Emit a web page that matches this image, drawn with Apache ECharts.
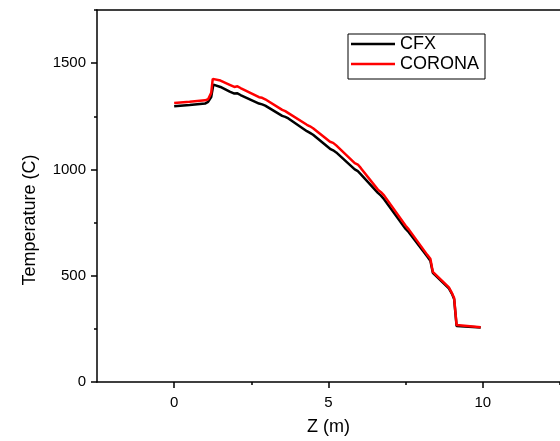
<!DOCTYPE html>
<html>
<head>
<meta charset="utf-8">
<script src="https://cdn.jsdelivr.net/npm/echarts@6/dist/echarts.min.js"></script>
<style>html,body{margin:0;padding:0;background:#fff}#c{width:560px;height:441px}</style>
</head>
<body>
<div id="c"></div>
<script>
// Data
var cfxZ = [0, 0.5, 1.0, 1.1, 1.2, 1.27, 1.5, 1.8, 1.95, 2.05, 2.15, 2.75, 2.85, 2.95, 3.5, 3.6, 3.7, 4.3, 4.4, 4.5, 5.05, 5.15, 5.25, 5.85, 5.95, 6.05, 6.6, 6.7, 6.8, 7.5, 7.6, 8.2, 8.3, 8.38, 8.9, 9.0, 9.07, 9.15, 9.93];
var cfxT = [1297, 1303, 1310, 1318, 1340, 1399, 1388, 1366, 1357, 1358, 1350, 1310, 1306, 1300, 1252, 1247, 1240, 1180, 1172, 1163, 1097, 1090, 1080, 1000, 992, 977, 890, 877, 860, 720, 705, 590, 570, 514, 440, 415, 390, 263, 256];
var coronaZ = [0, 0.5, 1.0, 1.1, 1.2, 1.25, 1.5, 1.8, 1.95, 2.05, 2.15, 2.75, 2.85, 2.95, 3.5, 3.6, 3.7, 4.3, 4.4, 4.5, 5.05, 5.15, 5.25, 5.85, 5.95, 6.05, 6.6, 6.7, 6.8, 7.5, 7.6, 8.2, 8.3, 8.38, 8.9, 9.0, 9.07, 9.15, 9.93];
var coronaT = [1313, 1318, 1325, 1330, 1360, 1426, 1418, 1398, 1388, 1391, 1383, 1340, 1337, 1330, 1280, 1274, 1265, 1210, 1203, 1194, 1130, 1125, 1113, 1030, 1023, 1006, 905, 893, 878, 735, 718, 598, 580, 518, 445, 418, 395, 268, 258];
var seriesNames = ['CFX', 'CORONA'];
var xMajorTicks = [0, 5, 10];
var xMinorTicks = [2.5, 7.5, 12.5];
var yMajorTicks = [0, 500, 1000, 1500];
var yMinorTicks = [250, 750, 1250, 1750];
var xAxisName = 'Z (m)';
var yAxisName = 'Temperature (C)';

function pairs(xs, ys) { return xs.map(function (x, i) { return [x, ys[i]]; }); }

var font = 'Liberation Sans, Arial, sans-serif';
var chart = echarts.init(document.getElementById('c'), null, { renderer: 'canvas' });
var axisLine = { show: true, onZero: false, lineStyle: { color: '#000', width: 1.5 } };
chart.setOption({
  animation: false,
  backgroundColor: '#fff',
  grid: { left: 97, top: 10, right: -2, bottom: 58 },
  legend: {
    left: 348, top: 34,
    orient: 'vertical',
    data: [{ name: seriesNames[0], icon: 'rect' }, { name: seriesNames[1], icon: 'rect' }],
    itemWidth: 44, itemHeight: 2.5, itemGap: 0,
    padding: [0, 6, 5, 3],
    borderColor: '#000', borderWidth: 1,
    textStyle: { fontFamily: font, fontSize: 18, color: '#000', lineHeight: 20 }
  },
  xAxis: [{
    type: 'value', min: -2.5, max: 12.5, position: 'bottom',
    name: xAxisName, nameLocation: 'middle', nameGap: 36,
    nameTextStyle: { fontFamily: font, fontSize: 18, color: '#000' },
    axisLine: axisLine,
    axisTick: { show: true, customValues: xMajorTicks, length: 6, lineStyle: { color: '#000', width: 1.5 } },
    axisLabel: { customValues: xMajorTicks, fontFamily: font, fontSize: 15, color: '#000', margin: 13 },
    splitLine: { show: false }
  }, {
    type: 'value', min: -2.5, max: 12.5, position: 'bottom',
    axisLine: { show: false, onZero: false },
    axisTick: { show: true, customValues: xMinorTicks, length: 3, lineStyle: { color: '#000', width: 1.5 } },
    axisLabel: { show: false },
    splitLine: { show: false }
  }, {
    type: 'value', min: -2.5, max: 12.5, position: 'top',
    axisLine: axisLine, axisTick: { show: false }, axisLabel: { show: false }, splitLine: { show: false }
  }],
  yAxis: [{
    type: 'value', min: 0, max: 1750, position: 'left',
    axisLine: axisLine,
    axisTick: { show: true, customValues: yMajorTicks, length: 6, lineStyle: { color: '#000', width: 1.5 } },
    axisLabel: { customValues: yMajorTicks, formatter: function (v) { return String(v); }, fontFamily: font, fontSize: 15, color: '#000', margin: 11 },
    splitLine: { show: false }
  }, {
    type: 'value', min: 0, max: 1750, position: 'left',
    axisLine: { show: false, onZero: false },
    axisTick: { show: true, customValues: yMinorTicks, length: 3, lineStyle: { color: '#000', width: 1.5 } },
    axisLabel: { show: false },
    splitLine: { show: false }
  }],
  graphic: [{
    type: 'text', x: 30, y: 220, rotation: Math.PI / 2,
    style: { text: yAxisName, fontFamily: font, fontSize: 18, fill: '#000', align: 'center', verticalAlign: 'middle' }
  }],
  series: [{
    name: seriesNames[0], type: 'line', data: pairs(cfxZ, cfxT),
    symbol: 'none', color: '#000', lineStyle: { color: '#000', width: 2.5 }
  }, {
    name: seriesNames[1], type: 'line', data: pairs(coronaZ, coronaT),
    symbol: 'none', color: '#ff0000', lineStyle: { color: '#ff0000', width: 2.5 }
  }]
});
</script>
</body>
</html>
